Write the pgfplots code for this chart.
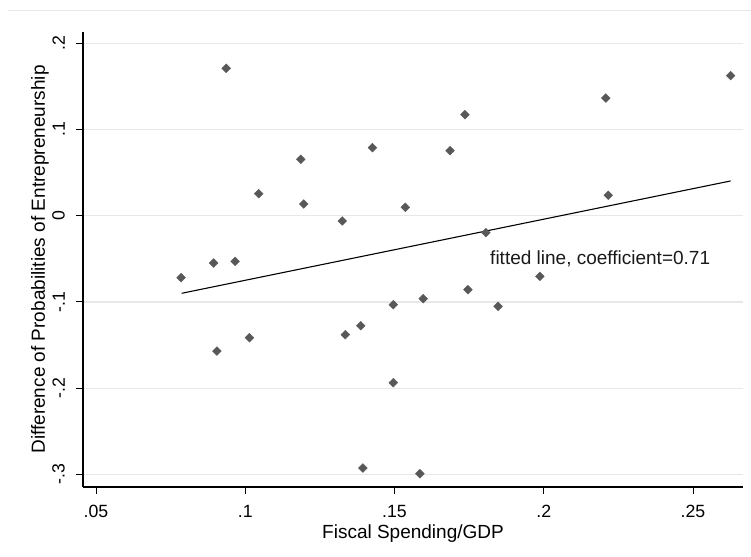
\documentclass[border=0pt]{standalone}
\usepackage{fontspec}
\setmainfont{Liberation Sans}
\usepackage{pgfplots}
\pgfplotsset{compat=1.18}
\definecolor{markgray}{RGB}{88,88,88}
\definecolor{gridgray}{RGB}{232,232,232}
\pgfplotstableread{
x y
0.0785 -0.0719
0.0894 -0.0549
0.0966 -0.0529
0.0905 -0.1570
0.0936 0.1710
0.1014 -0.1415
0.1045 0.0255
0.1186 0.0654
0.1196 0.0136
0.1325 -0.0061
0.1335 -0.1380
0.1387 -0.1276
0.1426 0.0789
0.1536 0.0097
0.1496 -0.1032
0.1496 -0.1937
0.1394 -0.2927
0.1585 -0.2993
0.1596 -0.0963
0.1686 0.0754
0.1736 0.1172
0.1746 -0.0858
0.1806 -0.0197
0.1847 -0.1051
0.1987 -0.0703
0.2208 0.1365
0.2216 0.0237
0.2626 0.1624
}\points
\begin{document}
\begin{tikzpicture}
\path[use as bounding box] (-83pt,-69pt) rectangle (668pt,487pt);
\draw[gridgray, line width=1pt] (-75pt,476pt) -- (668pt,476pt);
\begin{axis}[
  scale only axis, width=660pt, height=455pt,
  at={(0pt,0pt)}, anchor=south west,
  xmin=0.04564, xmax=0.26675, ymin=-0.3147, ymax=0.2131,
  axis lines=left,
  axis line style={-, line width=1.2pt, black},
  tick align=outside, major tick length=7pt,
  tick style={black, line width=1pt},
  xtick={0.05,0.1,0.15,0.2,0.25},
  xticklabels={.05,.1,.15,.2,.25},
  ytick={-0.3,-0.2,-0.1,0,0.1,0.2},
  yticklabels={-.3,-.2,-.1,0,.1,.2},
  ymajorgrids, major grid style={gridgray, line width=1.2pt},
  ticklabel style={font=\fontsize{17.7}{20}\selectfont, inner sep=0pt},
  xticklabel style={anchor=north, yshift=-11pt},
  yticklabel style={xshift=-11pt, rotate=90, anchor=south},
  clip=false,
]
\addplot[only marks, mark=square*, mark size=3.1pt, mark options={rotate=45, fill=markgray, draw=markgray}] table[x=x,y=y] {\points};
\addplot[black, line width=1.1pt] coordinates {(0.0787,-0.0900) (0.2626,0.0403)};
\node[anchor=west, inner sep=0pt, font=\fontsize{19}{21}\selectfont, text=black!90] at (axis cs:0.182,-0.0502) {fitted line, coefficient=0.71};
\node[anchor=base, inner sep=0pt, font=\fontsize{19}{21}\selectfont] at (axis description cs:0.5,-0.1121) {Fiscal Spending/GDP};
\node[anchor=base, rotate=90, inner sep=0pt, font=\fontsize{19}{21}\selectfont] at (axis description cs:-0.0576,0.5) {Difference of Probabilities of Entrepreneurship};
\end{axis}
\end{tikzpicture}
\end{document}
